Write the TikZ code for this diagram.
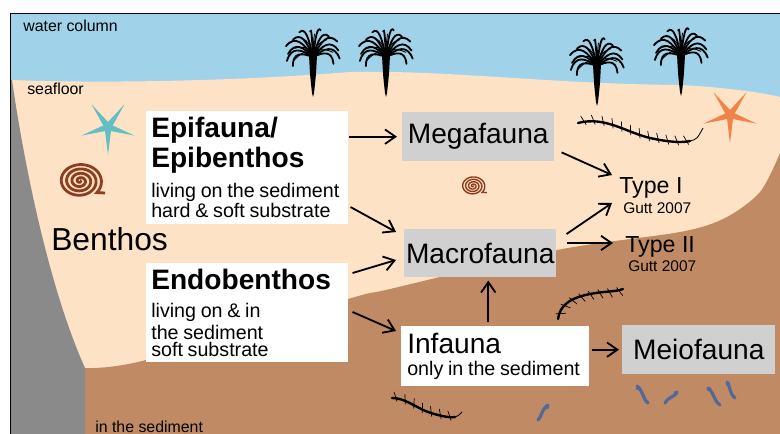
\documentclass[tikz,border=0pt]{standalone}
\usepackage{fontspec}
\setmainfont{Liberation Sans}
\usetikzlibrary{arrows.meta,decorations.markings}

\definecolor{water}{RGB}{160,211,234}
\definecolor{sand}{RGB}{253,226,198}
\definecolor{mud}{RGB}{192,139,100}
\definecolor{rock}{RGB}{138,138,138}
\definecolor{boxgray}{RGB}{208,208,208}
\definecolor{starteal}{RGB}{100,190,196}
\definecolor{starorange}{RGB}{240,132,72}
\definecolor{shellbrown}{RGB}{142,62,32}
\definecolor{meioblue}{RGB}{84,104,152}

\tikzset{
  % sea lily: tapering stalk with a fan of curled arms
  crinoid/.pic={
    \fill (-4,0) .. controls (-3,20) .. (-1,38) -- (0,42) -- (1,38) .. controls (3,20) .. (4,0) -- cycle;
    \foreach \a/\r in {-172/24,-160/27,-148/25,-136/29,-122/27,-108/30,-94/28,-80/30,-66/27,-52/29,-38/26,-24/27,-12/23}
      \draw[line width=1.3pt,line cap=round]
        (0,2) .. controls ({0.45*\r*cos(\a)},{0.6*\r*sin(\a)}) and ({0.85*\r*cos(\a)},{\r*sin(\a)})
        .. ({\r*cos(\a+0.5*(\a+90))},{0.85*\r*sin(\a+0.5*(\a+90))});
    \foreach \a in {-165,-141,-115,-87,-59,-31}
      \draw[line width=0.6pt,line cap=round]
        (0,0) .. controls ({10*cos(\a)},{14*sin(\a)}) .. ({20*cos(\a+0.4*(\a+90))},{21*sin(\a+0.4*(\a+90))});
  },
  % five armed sea star
  seastar/.pic={
    \fill (90:28) \foreach \a in {90,162,234,306,18} { -- (\a+36:5) -- (\a+72:28) } -- cycle;
  },
  % coiled shell
  shell/.pic={
    \draw plot[domain=0:1480,samples=240,smooth] ({\x/1480*22*cos(\x)},{\x/1480*18*sin(\x)}) -- (25,12);
  },
  bristles/.style={decoration={markings,
      mark=between positions 0.05 and 0.97 step 2.4mm with {\draw[line width=0.5pt] (-2,-6) -- (2,3);}},
    postaction={decorate}},
}

\begin{document}
\begin{tikzpicture}[x=0.25mm, y=-0.25mm, >={Straight Barb[length=2.6mm,width=3.6mm]},
    flow/.style={->, line width=1.3pt},
    infobox/.style={fill=white, anchor=north west, align=left, text width=48mm,
      inner xsep=1.25mm, inner ysep=1.5mm},
    faunabox/.style={fill=boxgray, anchor=north west, minimum width=38mm,
      minimum height=12.2mm, inner sep=0pt, font=\fontsize{20}{24}\selectfont},
    textonly/.style={inner sep=0pt, anchor=base west},
    worm/.style={line width=1.7pt, line cap=round},
    meio/.style={meioblue, line width=2.3pt, line cap=round}]

\useasboundingbox (0,0) rectangle (780,434);

% layers: water, seafloor, sediment, rock
\begin{scope}
  \clip (10,13) rectangle (780,434);
  \fill[water] (10,13) rectangle (780,434);
  \fill[sand] (10,80) .. controls (120,84) and (250,80) .. (350,72)
    .. controls (450,70) and (550,84) .. (680,85)
    .. controls (720,87) and (760,92) .. (780,97) -- (780,434) -- (10,434) -- cycle;
  \fill[mud] (85,434) -- plot[smooth] coordinates {(85,368) (146,360) (348,299) (390,289)
    (557,250) (680,232) (725,218) (760,192) (780,153)} -- (780,434) -- cycle;
  \fill[rock] (10,80) -- (12,80) .. controls (25,170) and (50,290) .. (85,368)
    -- (85,434) -- (10,434) -- cycle;
\end{scope}
\draw[line width=0.6pt] (10,434) -- (10,13) -- (780,13);

% animals
\pic at (313,55) {crinoid};
\pic at (386,55) {crinoid};
\pic at (597,64) {crinoid};
\pic at (681,54) {crinoid};
\pic[starteal] at (108,127) {seastar};
\pic[starorange] at (730,115) {seastar};
\pic[shellbrown, line width=2pt] at (80,181) {shell};
\pic[shellbrown, line width=1pt, scale=0.55] at (473,186) {shell};

\draw[worm, bristles] (578,123) .. controls (605,116) and (625,132) .. (650,138)
  .. controls (668,142) and (682,143) .. (690,141);
\draw[line width=0.6pt] (690,141) .. controls (697,139) .. (703,128);
\draw[worm, bristles] (623,289) .. controls (615,292) and (605,291) .. (590,294)
  .. controls (570,298) and (560,305) .. (558,319);
\draw[worm, bristles] (392,398) .. controls (405,398) and (415,407) .. (428,412)
  .. controls (440,416) and (450,418) .. (455,417);
\draw[line width=0.6pt] (455,417) .. controls (458,416) .. (462,412);

\draw[meio] (637,386) .. controls (644,392) and (642,398) .. (648,403);
\draw[meio] (665,403) .. controls (669,396) and (674,398) .. (677,392);
\draw[meio] (708,388) .. controls (715,394) and (713,400) .. (720,405);
\draw[meio] (727,382) .. controls (731,388) and (729,393) .. (735,398);
\draw[meio] (538,420) .. controls (543,414) and (541,410) .. (548,405);
\foreach \hx/\hy in {638/388,676/393,709/389,728/384,547/407}
  \fill[meioblue] (\hx,\hy) circle (2.2);

% labels
\node[textonly, font=\fontsize{11.3}{13}\selectfont] (water) at (23,32) {water column};
\node[textonly, font=\fontsize{11.3}{13}\selectfont] (floor) at (27,95) {seafloor};
\node[textonly, font=\fontsize{11.3}{13}\selectfont] (sediment) at (95,432) {in the sediment};
\node[textonly, font=\fontsize{22.6}{26}\selectfont] (benthos) at (51,250) {Benthos};

% boxes
\node[infobox] (epi) at (146,111) {\fontsize{20}{21.3}\selectfont\bfseries Epifauna/\\Epibenthos\par
  \vspace{6.5pt}\fontsize{14}{15}\selectfont\mdseries living on the sediment\\hard \& soft substrate};
\node[infobox] (endo) at (146,263) {\fontsize{20}{21.3}\selectfont\bfseries Endobenthos\par
  \vspace{4.5pt}\fontsize{14}{15.4}\selectfont\mdseries living on \& in\\the sediment\\soft substrate};
\node[infobox, text width=44mm, inner xsep=1.5mm, inner ysep=1.6mm] (infauna) at (401,326) {\fontsize{20}{24}\selectfont Infauna\par
  \vspace{4pt}\fontsize{14}{15}\selectfont only in the sediment};
\node[faunabox] (mega) at (402,112) {Megafauna};
\node[faunabox, minimum height=12mm] (macro) at (404,229) {Macrofauna};
\node[faunabox, minimum width=38.25mm] (meio) at (622,325) {Meiofauna};

\node[textonly, font=\fontsize{16.5}{18}\selectfont] (type1) at (619,193) {Type I};
\node[textonly, font=\fontsize{11}{13}\selectfont] (gutt1) at (623,213) {Gutt 2007};
\node[textonly, font=\fontsize{16.5}{18}\selectfont] (type2) at (625,252) {Type II};
\node[textonly, font=\fontsize{11}{13}\selectfont] (gutt2) at (628,271) {Gutt 2007};

% arrows
\draw[flow, shorten >=1.25mm] (epi.east |- mega.west) -- (mega.west);
\draw[flow] ([shift={(2,-17)}]epi.south east) -- ([shift={(-8,3)}]macro.north west);
\draw[flow] ([shift={(4,10)}]endo.north east) -- ([shift={(-8,31)}]macro.north west);
\draw[flow] ([shift={(4,49)}]endo.north east) -- ([shift={(-5,5)}]infauna.north west);
\draw[flow] ([shift={(7,-9)}]mega.south east) -- ([shift={(-7,-18)}]type1.base west);
\draw[flow] ([shift={(10,5)}]macro.north east) -- ([shift={(-7,10)}]type1.base west);
\draw[flow] ([shift={(10,14)}]macro.north east) -- ([shift={(-12,-9)}]type2.base west);
\draw[flow, shorten <=1mm, shorten >=0.75mm] ([xshift=-1.75mm]infauna.north)
  -- ([xshift=-1.75mm]infauna.north |- macro.south);
\draw[flow, shorten <=0.5mm, shorten >=0.75mm] (infauna.east |- meio.west) -- (meio.west);
\end{tikzpicture}
\end{document}
